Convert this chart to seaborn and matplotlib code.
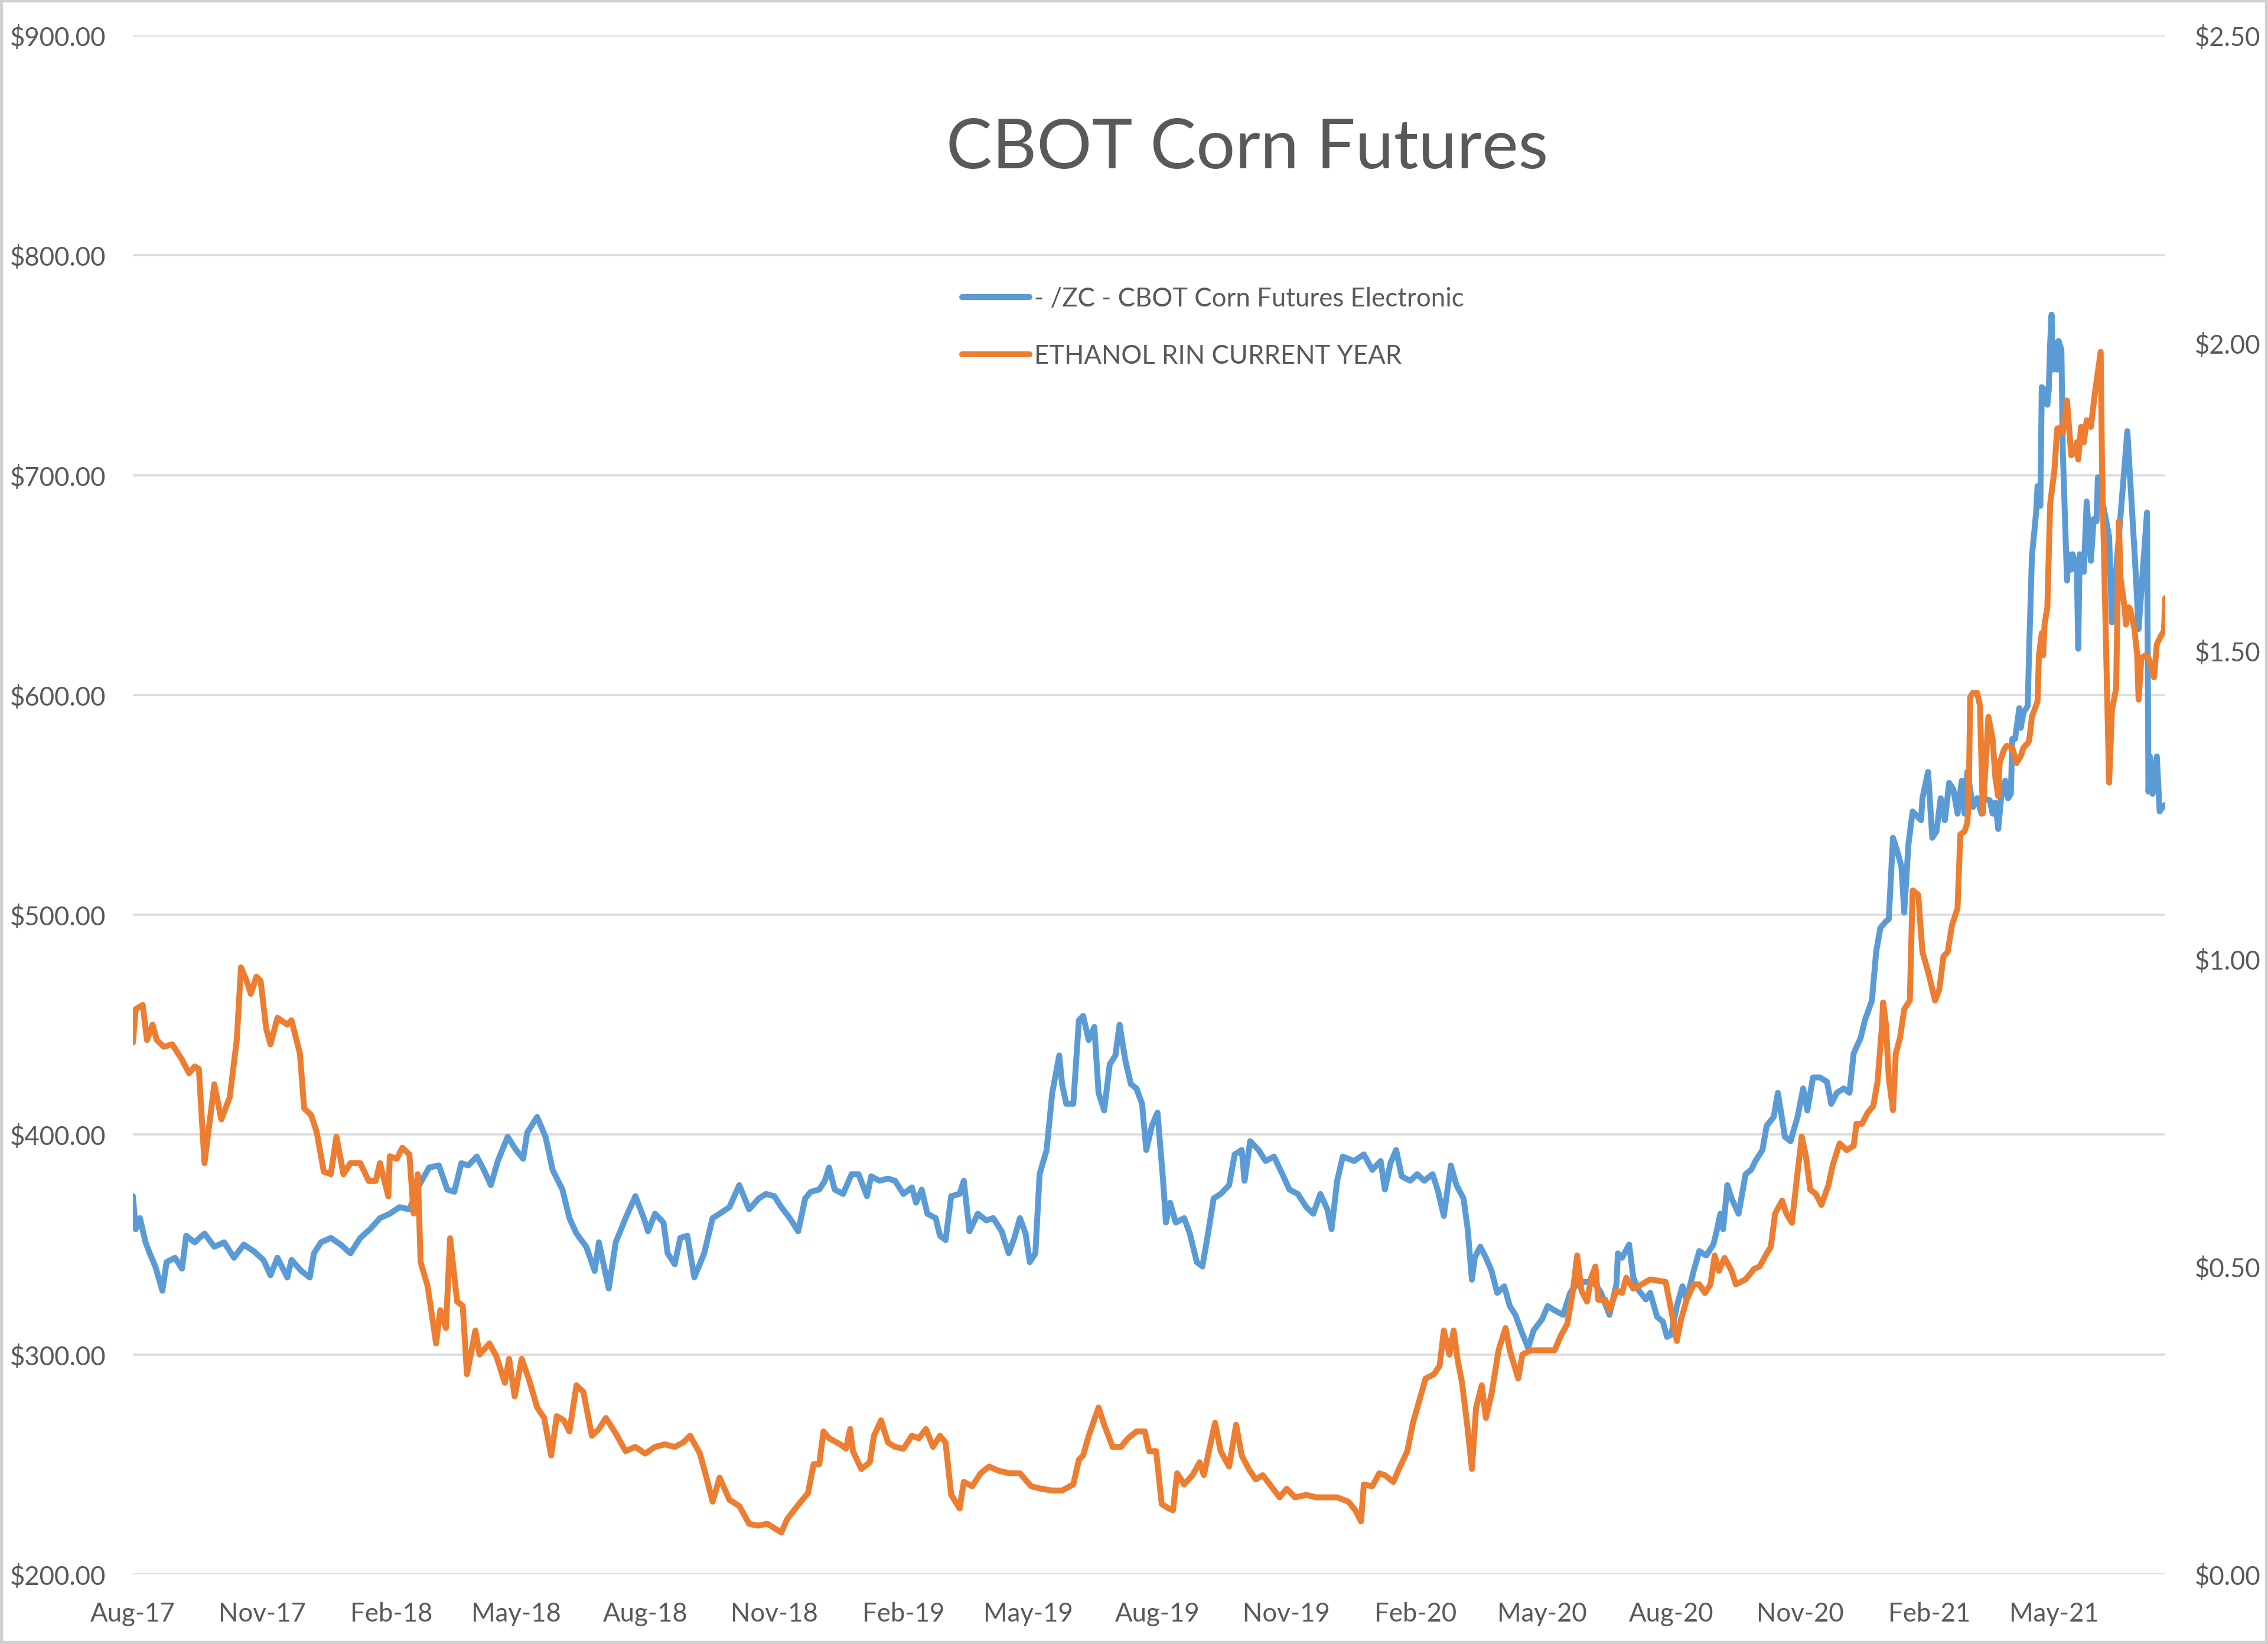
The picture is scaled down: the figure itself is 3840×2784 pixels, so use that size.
import numpy as np
import pandas as pd
import matplotlib.pyplot as plt
import matplotlib.dates as mdates
from matplotlib.ticker import FuncFormatter
from matplotlib.patches import Rectangle
import seaborn as sns

# Corn futures, left axis ($)
corn_dates = [
    '2017-08-01','2017-08-03','2017-08-06','2017-08-10','2017-08-13','2017-08-17','2017-08-22','2017-08-25','2017-08-31','2017-09-05',
    '2017-09-08','2017-09-14','2017-09-21','2017-09-28','2017-10-05','2017-10-12','2017-10-19','2017-10-26','2017-11-02','2017-11-07',
    '2017-11-12','2017-11-19','2017-11-22','2017-11-29','2017-12-05','2017-12-08','2017-12-13','2017-12-20','2017-12-27','2018-01-03',
    '2018-01-10','2018-01-17','2018-01-24','2018-01-31','2018-02-07','2018-02-14','2018-02-21','2018-02-28','2018-03-07','2018-03-13',
    '2018-03-18','2018-03-23','2018-03-28','2018-04-03','2018-04-08','2018-04-13','2018-04-18','2018-04-25','2018-05-01','2018-05-06',
    '2018-05-09','2018-05-16','2018-05-22','2018-05-27','2018-06-03','2018-06-08','2018-06-13','2018-06-20','2018-06-26','2018-06-29',
    '2018-07-06','2018-07-11','2018-07-18','2018-07-25','2018-07-31','2018-08-03','2018-08-08','2018-08-14','2018-08-17','2018-08-22',
    '2018-08-26','2018-08-31','2018-09-05','2018-09-12','2018-09-18','2018-09-23','2018-09-30','2018-10-07','2018-10-14','2018-10-21',
    '2018-10-26','2018-11-01','2018-11-06','2018-11-12','2018-11-18','2018-11-23','2018-11-27','2018-12-03','2018-12-07','2018-12-10',
    '2018-12-14','2018-12-20','2018-12-26','2018-12-31','2019-01-06','2019-01-09','2019-01-15','2019-01-21','2019-01-26','2019-02-01',
    '2019-02-07','2019-02-10','2019-02-14','2019-02-18','2019-02-24','2019-02-27','2019-03-03','2019-03-07','2019-03-13','2019-03-16',
    '2019-03-20','2019-03-26','2019-04-01','2019-04-06','2019-04-12','2019-04-17','2019-04-21','2019-04-25','2019-04-29','2019-05-02',
    '2019-05-06','2019-05-09','2019-05-14','2019-05-18','2019-05-23','2019-05-25','2019-05-28','2019-06-02','2019-06-06','2019-06-09',
    '2019-06-13','2019-06-17','2019-06-20','2019-06-24','2019-06-28','2019-07-02','2019-07-05','2019-07-09','2019-07-13','2019-07-17',
    '2019-07-21','2019-07-24','2019-07-28','2019-08-01','2019-08-05','2019-08-07','2019-08-10','2019-08-14','2019-08-20','2019-08-24',
    '2019-08-29','2019-09-02','2019-09-06','2019-09-10','2019-09-15','2019-09-21','2019-09-25','2019-09-30','2019-10-02','2019-10-06',
    '2019-10-12','2019-10-17','2019-10-23','2019-10-29','2019-11-03','2019-11-09','2019-11-15','2019-11-20','2019-11-25','2019-11-30',
    '2019-12-03','2019-12-07','2019-12-11','2019-12-19','2019-12-26','2020-01-01','2020-01-07','2020-01-10','2020-01-14','2020-01-18',
    '2020-01-22','2020-01-28','2020-02-02','2020-02-07','2020-02-13','2020-02-17','2020-02-21','2020-02-26','2020-03-01','2020-03-06',
    '2020-03-09','2020-03-12','2020-03-14','2020-03-18','2020-03-22','2020-03-26','2020-03-30','2020-04-04','2020-04-08','2020-04-12',
    '2020-04-16','2020-04-21','2020-04-25','2020-05-01','2020-05-05','2020-05-10','2020-05-16','2020-05-21','2020-05-27','2020-06-02',
    '2020-06-08','2020-06-12','2020-06-18','2020-06-23','2020-06-24','2020-06-27','2020-07-02','2020-07-05','2020-07-09','2020-07-14',
    '2020-07-17','2020-07-22','2020-07-26','2020-07-29','2020-08-01','2020-08-05','2020-08-09','2020-08-12','2020-08-17','2020-08-21',
    '2020-08-26','2020-08-31','2020-09-02','2020-09-05','2020-09-07','2020-09-10','2020-09-13','2020-09-18','2020-09-23','2020-09-27',
    '2020-09-30','2020-10-05','2020-10-08','2020-10-13','2020-10-16','2020-10-21','2020-10-25','2020-10-30','2020-11-03','2020-11-06',
    '2020-11-10','2020-11-15','2020-11-20','2020-11-23','2020-11-27','2020-12-02','2020-12-06','2020-12-09','2020-12-14','2020-12-17',
    '2020-12-22','2020-12-25','2020-12-28','2021-01-01','2021-01-03','2021-01-06','2021-01-09','2021-01-12','2021-01-14','2021-01-17',
    '2021-01-20','2021-01-26','2021-01-27','2021-01-31','2021-02-03','2021-02-06','2021-02-09','2021-02-12','2021-02-15','2021-02-18',
    '2021-02-21','2021-02-24','2021-02-26','2021-02-28','2021-03-04','2021-03-07','2021-03-10','2021-03-12','2021-03-16','2021-03-18',
    '2021-03-20','2021-03-22','2021-03-24','2021-03-27','2021-03-29','2021-03-31','2021-04-01','2021-04-03','2021-04-06','2021-04-07',
    '2021-04-09','2021-04-12','2021-04-13','2021-04-15','2021-04-18','2021-04-19','2021-04-21','2021-04-22','2021-04-24','2021-04-26',
    '2021-04-27','2021-04-28','2021-04-29','2021-04-30','2021-05-02','2021-05-03','2021-05-04','2021-05-06','2021-05-07','2021-05-10',
    '2021-05-11','2021-05-13','2021-05-14','2021-05-17','2021-05-18','2021-05-19','2021-05-22','2021-05-24','2021-05-27','2021-05-29',
    '2021-05-31','2021-06-01','2021-06-09','2021-06-11','2021-06-22','2021-06-28','2021-06-30','2021-07-06','2021-07-07','2021-07-08',
    '2021-07-10','2021-07-13','2021-07-15','2021-07-17','2021-07-19',
]
corn_prices = [
    372, 357, 362, 351, 346, 340, 329, 342, 344, 339,
    354, 351, 355, 349, 351, 344, 350, 347, 343, 336,
    344, 335, 343, 338, 335, 346, 351, 353, 350, 346,
    353, 357, 362, 364, 367, 366, 377, 385, 386, 375,
    374, 387, 386, 390, 384, 377, 388, 399, 393, 389,
    401, 408, 399, 384, 375, 362, 355, 349, 338, 351,
    330, 351, 362, 372, 362, 356, 364, 360, 346, 341,
    353, 354, 335, 346, 362, 364, 367, 377, 366, 371,
    373, 372, 367, 362, 356, 371, 374, 375, 379, 385,
    375, 373, 382, 382, 372, 381, 379, 380, 379, 373,
    376, 369, 375, 364, 362, 354, 352, 372, 373, 379,
    356, 364, 361, 362, 356, 346, 353, 362, 355, 342,
    346, 382, 393, 419, 436, 423, 414, 414, 452, 454,
    443, 449, 419, 411, 432, 436, 450, 434, 423, 421,
    414, 393, 404, 410, 379, 360, 369, 360, 362, 355,
    342, 340, 355, 371, 373, 377, 391, 393, 379, 397,
    393, 388, 390, 382, 375, 373, 367, 364, 373, 366,
    357, 379, 390, 388, 391, 384, 388, 375, 387, 393,
    381, 379, 382, 379, 382, 374, 363, 386, 377, 371,
    357, 334, 344, 349, 344, 338, 328, 331, 322, 318,
    311, 303, 311, 316, 322, 320, 318, 328, 333, 333,
    332, 328, 318, 332, 346, 344, 350, 335, 329, 325,
    328, 317, 315, 308, 309, 322, 331, 325, 338, 347,
    345, 350, 355, 364, 357, 377, 371, 364, 382, 384,
    388, 393, 404, 408, 419, 399, 397, 408, 421, 411,
    426, 426, 424, 414, 419, 421, 419, 437, 444, 452,
    461, 483, 494, 497, 498, 535, 529, 522, 501, 532,
    547, 543, 553, 565, 535, 538, 553, 543, 560, 557,
    546, 561, 546, 565, 549, 553, 546, 553, 552, 546,
    551, 539, 553, 561, 553, 555, 580, 580, 594, 585,
    592, 595, 620, 663, 683, 695, 686, 740, 739, 732,
    739, 760, 773, 748, 760, 748, 761, 757, 711, 652,
    664, 657, 664, 657, 621, 664, 656, 688, 661, 680,
    679, 699, 672, 633, 720, 655, 630, 683, 556, 572,
    555, 572, 547, 549, 550,
]

# Ethanol RIN, right axis ($)
rin_dates = [
    '2017-08-01','2017-08-03','2017-08-08','2017-08-11','2017-08-15','2017-08-18','2017-08-23','2017-08-29','2017-09-05','2017-09-10',
    '2017-09-14','2017-09-17','2017-09-21','2017-09-28','2017-10-03','2017-10-09','2017-10-14','2017-10-17','2017-10-21','2017-10-24',
    '2017-10-28','2017-10-31','2017-11-04','2017-11-07','2017-11-12','2017-11-19','2017-11-22','2017-11-28','2017-12-01','2017-12-06',
    '2017-12-10','2017-12-15','2017-12-20','2017-12-24','2017-12-29','2018-01-03','2018-01-10','2018-01-16','2018-01-21','2018-01-24',
    '2018-01-30','2018-01-31','2018-02-05','2018-02-09','2018-02-14','2018-02-17','2018-02-20','2018-02-22','2018-02-27','2018-03-05',
    '2018-03-08','2018-03-12','2018-03-15','2018-03-20','2018-03-24','2018-03-27','2018-04-02','2018-04-05','2018-04-12','2018-04-17',
    '2018-04-23','2018-04-26','2018-04-30','2018-05-05','2018-05-10','2018-05-16','2018-05-21','2018-05-26','2018-05-30','2018-06-04',
    '2018-06-08','2018-06-13','2018-06-18','2018-06-24','2018-06-29','2018-07-04','2018-07-11','2018-07-18','2018-07-25','2018-08-01',
    '2018-08-08','2018-08-15','2018-08-22','2018-08-28','2018-09-02','2018-09-09','2018-09-14','2018-09-18','2018-09-23','2018-09-30',
    '2018-10-07','2018-10-14','2018-10-20','2018-10-27','2018-11-01','2018-11-06','2018-11-10','2018-11-16','2018-11-21','2018-11-25',
    '2018-11-29','2018-12-03','2018-12-06','2018-12-10','2018-12-18','2018-12-22','2018-12-25','2018-12-27','2019-01-02','2019-01-08',
    '2019-01-11','2019-01-16','2019-01-21','2019-01-26','2019-02-01','2019-02-07','2019-02-12','2019-02-17','2019-02-22','2019-02-27',
    '2019-03-03','2019-03-07','2019-03-13','2019-03-16','2019-03-22','2019-03-28','2019-04-03','2019-04-10','2019-04-18','2019-04-25',
    '2019-05-03','2019-05-10','2019-05-18','2019-05-25','2019-06-02','2019-06-06','2019-06-09','2019-06-13','2019-06-20','2019-06-24',
    '2019-06-30','2019-07-06','2019-07-11','2019-07-17','2019-07-23','2019-07-26','2019-07-31','2019-08-04','2019-08-09','2019-08-12',
    '2019-08-15','2019-08-20','2019-08-26','2019-08-31','2019-09-03','2019-09-07','2019-09-11','2019-09-15','2019-09-21','2019-09-26',
    '2019-09-30','2019-10-05','2019-10-10','2019-10-15','2019-10-21','2019-10-27','2019-11-01','2019-11-07','2019-11-15','2019-11-22',
    '2019-11-30','2019-12-07','2019-12-15','2019-12-20','2019-12-24','2019-12-26','2020-01-01','2020-01-06','2020-01-10','2020-01-16',
    '2020-01-20','2020-01-26','2020-01-30','2020-02-04','2020-02-08','2020-02-14','2020-02-18','2020-02-21','2020-02-25','2020-02-28',
    '2020-03-02','2020-03-05','2020-03-09','2020-03-12','2020-03-15','2020-03-19','2020-03-22','2020-03-26','2020-03-31','2020-04-05',
    '2020-04-08','2020-04-14','2020-04-17','2020-04-23','2020-04-29','2020-05-04','2020-05-10','2020-05-14','2020-05-19','2020-05-23',
    '2020-05-26','2020-05-29','2020-06-02','2020-06-05','2020-06-08','2020-06-10','2020-06-15','2020-06-18','2020-06-23','2020-06-27',
    '2020-06-30','2020-07-05','2020-07-11','2020-07-17','2020-07-28','2020-08-01','2020-08-05','2020-08-08','2020-08-12','2020-08-17',
    '2020-08-21','2020-08-25','2020-08-29','2020-09-01','2020-09-04','2020-09-08','2020-09-13','2020-09-16','2020-09-23','2020-09-29',
    '2020-10-03','2020-10-08','2020-10-11','2020-10-14','2020-10-19','2020-10-22','2020-10-26','2020-10-29','2020-11-02','2020-11-05',
    '2020-11-08','2020-11-12','2020-11-16','2020-11-21','2020-11-24','2020-11-29','2020-12-04','2020-12-09','2020-12-11','2020-12-15',
    '2020-12-19','2020-12-23','2020-12-26','2020-12-29','2020-12-30','2021-01-01','2021-01-03','2021-01-06','2021-01-08','2021-01-11',
    '2021-01-14','2021-01-18','2021-01-20','2021-01-24','2021-01-27','2021-01-31','2021-02-05','2021-02-08','2021-02-11','2021-02-14',
    '2021-02-17','2021-02-21','2021-02-23','2021-02-26','2021-02-28','2021-03-01','2021-03-02','2021-03-04','2021-03-07','2021-03-09',
    '2021-03-11','2021-03-15','2021-03-18','2021-03-20','2021-03-22','2021-03-23','2021-03-26','2021-03-28','2021-04-01','2021-04-04',
    '2021-04-07','2021-04-09','2021-04-12','2021-04-13','2021-04-15','2021-04-19','2021-04-20','2021-04-22','2021-04-23','2021-04-24',
    '2021-04-26','2021-04-28','2021-05-01','2021-05-03','2021-05-06','2021-05-07','2021-05-10','2021-05-13','2021-05-15','2021-05-17',
    '2021-05-18','2021-05-20','2021-05-22','2021-05-24','2021-05-27','2021-05-30','2021-06-03','2021-06-04','2021-06-09','2021-06-11',
    '2021-06-14','2021-06-16','2021-06-17','2021-06-20','2021-06-21','2021-06-23','2021-06-24','2021-06-27','2021-06-29','2021-06-30',
    '2021-07-02','2021-07-05','2021-07-07','2021-07-09','2021-07-11','2021-07-13','2021-07-16','2021-07-18','2021-07-19',
]
rin_prices = [
    0.864, 0.918, 0.925, 0.868, 0.893, 0.868, 0.857, 0.861, 0.836, 0.814,
    0.825, 0.821, 0.668, 0.796, 0.739, 0.775, 0.868, 0.986, 0.964, 0.943,
    0.971, 0.964, 0.886, 0.861, 0.904, 0.893, 0.900, 0.846, 0.757, 0.746,
    0.718, 0.654, 0.650, 0.711, 0.650, 0.668, 0.668, 0.639, 0.639, 0.668,
    0.614, 0.679, 0.675, 0.693, 0.682, 0.586, 0.650, 0.507, 0.468, 0.375,
    0.429, 0.400, 0.546, 0.443, 0.436, 0.325, 0.396, 0.357, 0.375, 0.354,
    0.311, 0.350, 0.289, 0.350, 0.318, 0.271, 0.254, 0.193, 0.257, 0.250,
    0.232, 0.307, 0.296, 0.225, 0.236, 0.254, 0.229, 0.200, 0.207, 0.196,
    0.207, 0.211, 0.207, 0.214, 0.225, 0.196, 0.154, 0.118, 0.157, 0.121,
    0.111, 0.082, 0.079, 0.082, 0.075, 0.068, 0.089, 0.107, 0.121, 0.132,
    0.179, 0.179, 0.232, 0.221, 0.211, 0.204, 0.236, 0.200, 0.171, 0.182,
    0.225, 0.250, 0.214, 0.207, 0.204, 0.225, 0.221, 0.236, 0.207, 0.225,
    0.214, 0.129, 0.107, 0.150, 0.143, 0.164, 0.175, 0.168, 0.164, 0.164,
    0.143, 0.139, 0.136, 0.136, 0.146, 0.186, 0.193, 0.225, 0.271, 0.243,
    0.207, 0.207, 0.221, 0.232, 0.232, 0.200, 0.200, 0.114, 0.107, 0.104,
    0.164, 0.146, 0.161, 0.182, 0.161, 0.204, 0.246, 0.200, 0.175, 0.243,
    0.193, 0.171, 0.154, 0.161, 0.143, 0.125, 0.139, 0.125, 0.129, 0.125,
    0.125, 0.125, 0.118, 0.104, 0.086, 0.146, 0.143, 0.164, 0.161, 0.150,
    0.171, 0.200, 0.246, 0.286, 0.318, 0.325, 0.339, 0.396, 0.357, 0.396,
    0.346, 0.311, 0.236, 0.171, 0.271, 0.307, 0.254, 0.293, 0.364, 0.400,
    0.364, 0.318, 0.357, 0.364, 0.364, 0.364, 0.364, 0.386, 0.407, 0.461,
    0.518, 0.461, 0.443, 0.482, 0.500, 0.446, 0.446, 0.429, 0.461, 0.457,
    0.482, 0.464, 0.471, 0.479, 0.475, 0.429, 0.379, 0.414, 0.446, 0.471,
    0.471, 0.457, 0.471, 0.518, 0.493, 0.514, 0.493, 0.471, 0.479, 0.496,
    0.500, 0.521, 0.532, 0.586, 0.607, 0.586, 0.571, 0.632, 0.711, 0.679,
    0.625, 0.618, 0.600, 0.632, 0.664, 0.700, 0.689, 0.696, 0.732, 0.732,
    0.750, 0.761, 0.800, 0.886, 0.929, 0.893, 0.807, 0.754, 0.846, 0.871,
    0.918, 0.932, 1.111, 1.104, 1.011, 0.979, 0.932, 0.950, 1.004, 1.011,
    1.054, 1.082, 1.202, 1.207, 1.221, 1.261, 1.425, 1.432, 1.432, 1.411,
    1.236, 1.393, 1.357, 1.293, 1.264, 1.318, 1.339, 1.346, 1.343, 1.318,
    1.329, 1.343, 1.350, 1.354, 1.393, 1.418, 1.493, 1.529, 1.493, 1.543,
    1.571, 1.739, 1.793, 1.861, 1.864, 1.854, 1.907, 1.818, 1.821, 1.839,
    1.811, 1.864, 1.839, 1.875, 1.864, 1.921, 1.986, 1.793, 1.286, 1.404,
    1.439, 1.711, 1.621, 1.571, 1.543, 1.571, 1.568, 1.536, 1.493, 1.421,
    1.489, 1.493, 1.489, 1.475, 1.457, 1.511, 1.525, 1.532, 1.586,
]

corn_label = '- /ZC - CBOT Corn Futures Electronic'
rin_label = 'ETHANOL RIN CURRENT YEAR'
title_text = 'CBOT Corn Futures'
left_ticks = [200, 300, 400, 500, 600, 700, 800, 900]
right_ticks = [0.0, 0.5, 1.0, 1.5, 2.0, 2.5]

corn = pd.DataFrame({'date': pd.to_datetime(corn_dates), 'price': corn_prices})
rin = pd.DataFrame({'date': pd.to_datetime(rin_dates), 'price': rin_prices})

sns.set_theme(style='white')
plt.rcParams['font.family'] = ['Lato', 'DejaVu Sans']

text_grey = '#595959'
blue = '#5B9BD5'
orange = '#ED7D31'

fig = plt.figure(figsize=(12.8, 9.2833), dpi=300)
ax = fig.add_axes([0.0586, 0.0424, 0.8961, 0.9357])
ax2 = ax.twinx()

sns.lineplot(data=corn, x='date', y='price', ax=ax, color=blue, lw=2.4, legend=False)
sns.lineplot(data=rin, x='date', y='price', ax=ax2, color=orange, lw=2.4, legend=False)

ax.set_xlim(pd.Timestamp('2017-08-01'), pd.Timestamp('2021-07-19'))
ax.set_ylim(200, 900)
ax2.set_ylim(0, 2.5)
ax.set_yticks(left_ticks)
ax2.set_yticks(right_ticks)
ax.yaxis.set_major_formatter(FuncFormatter(lambda v, p: f'${v:,.2f}'))
ax2.yaxis.set_major_formatter(FuncFormatter(lambda v, p: f'${v:.2f}'))
ax.set_xticks(pd.date_range('2017-08-01', '2021-05-01', freq='3MS'))
ax.xaxis.set_major_formatter(mdates.DateFormatter('%b-%y'))

for a in (ax, ax2):
    for s in a.spines.values():
        s.set_visible(False)
    a.set_xlabel('')
    a.set_ylabel('')
    a.tick_params(length=0, labelsize=10.5, colors=text_grey)
ax.tick_params(axis='y', pad=11)
ax2.tick_params(axis='y', pad=12)
ax.tick_params(axis='x', pad=11)

ax.grid(axis='y', color='#DDDDDD', lw=0.9)
ax.grid(axis='x', visible=False)
ax2.grid(False)

fig.text(0.55, 0.9095, title_text, ha='center', va='center', fontsize=28, color=text_grey)

h1 = ax.get_lines()[0]
h2 = ax2.get_lines()[0]
fig.legend([h1, h2], [corn_label, rin_label], loc='upper left',
           bbox_to_anchor=(0.4242, 0.8255), bbox_transform=fig.transFigure,
           frameon=False, fontsize=10.5, handlelength=2.6, handletextpad=0.2,
           labelspacing=1.28, borderpad=0, borderaxespad=0, labelcolor=text_grey)

fig.patches.append(Rectangle((0, 0), 1, 1, transform=fig.transFigure, fill=False,
                             edgecolor='#D0D0D0', lw=2.5))

fig.savefig('out.png', dpi=300)
